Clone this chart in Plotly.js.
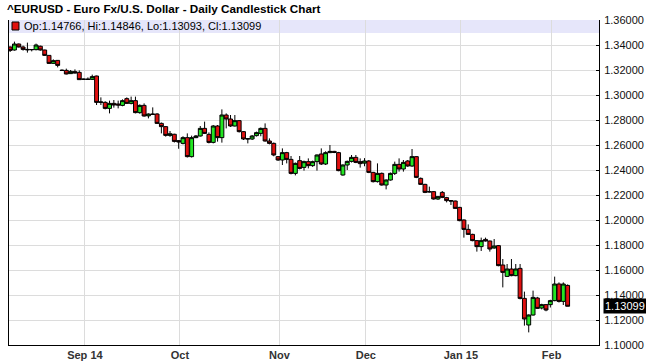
<!DOCTYPE html>
<html><head><meta charset="utf-8">
<script src="https://cdn.plot.ly/plotly-3.0.1.min.js"></script>
<style>html,body{margin:0;padding:0;background:#fff;}#chart{width:646px;height:363px;}</style>
</head><body><div id="chart"></div>
<script>
const dates = [
'2014-08-07','2014-08-08','2014-08-11','2014-08-12','2014-08-13','2014-08-14','2014-08-15','2014-08-18','2014-08-19','2014-08-20',
'2014-08-21','2014-08-22','2014-08-25','2014-08-26','2014-08-27','2014-08-28','2014-08-29','2014-09-01','2014-09-02','2014-09-03',
'2014-09-04','2014-09-05','2014-09-08','2014-09-09','2014-09-10','2014-09-11','2014-09-12','2014-09-15','2014-09-16','2014-09-17',
'2014-09-18','2014-09-19','2014-09-22','2014-09-23','2014-09-24','2014-09-25','2014-09-26','2014-09-29','2014-09-30','2014-10-01',
'2014-10-02','2014-10-03','2014-10-06','2014-10-07','2014-10-08','2014-10-09','2014-10-10','2014-10-13','2014-10-14','2014-10-15',
'2014-10-16','2014-10-17','2014-10-20','2014-10-21','2014-10-22','2014-10-23','2014-10-24','2014-10-27','2014-10-28','2014-10-29',
'2014-10-30','2014-10-31','2014-11-03','2014-11-04','2014-11-05','2014-11-06','2014-11-07','2014-11-10','2014-11-11','2014-11-12',
'2014-11-13','2014-11-14','2014-11-17','2014-11-18','2014-11-19','2014-11-20','2014-11-21','2014-11-24','2014-11-25','2014-11-26',
'2014-11-27','2014-11-28','2014-12-01','2014-12-02','2014-12-03','2014-12-04','2014-12-05','2014-12-08','2014-12-09','2014-12-10',
'2014-12-11','2014-12-12','2014-12-15','2014-12-16','2014-12-17','2014-12-18','2014-12-19','2014-12-22','2014-12-23','2014-12-24',
'2014-12-26','2014-12-29','2014-12-30','2014-12-31','2015-01-02','2015-01-05','2015-01-06','2015-01-07','2015-01-08','2015-01-09',
'2015-01-12','2015-01-13','2015-01-14','2015-01-15','2015-01-16','2015-01-19','2015-01-20','2015-01-21','2015-01-22','2015-01-23',
'2015-01-26','2015-01-27','2015-01-28','2015-01-29','2015-01-30','2015-02-02','2015-02-03','2015-02-04','2015-02-05','2015-02-06'
];
const openP = [
1.3384,1.3360,1.3408,1.3384,1.3365,1.3362,1.3363,1.3390,1.3360,1.3317,
1.3253,1.3277,1.3199,1.3197,1.3171,1.3187,1.3181,1.3125,1.3127,1.3125,
1.3152,1.2941,1.2941,1.2893,1.2933,1.2928,1.2917,1.2971,1.2933,1.2955,
1.2859,1.2917,1.2833,1.2848,1.2848,1.2773,1.2747,1.2677,1.2686,1.2635,
1.2613,1.2659,1.2507,1.2659,1.2672,1.2733,1.2685,1.2621,1.2752,1.2659,
1.2840,1.2808,1.2752,1.2795,1.2707,1.2648,1.2648,1.2675,1.2693,1.2733,
1.2632,1.2613,1.2507,1.2480,1.2539,1.2485,1.2373,1.2475,1.2421,1.2467,
1.2435,1.2467,1.2528,1.2448,1.2539,1.2549,1.2539,1.2360,1.2440,1.2469,
1.2501,1.2467,1.2455,1.2472,1.2381,1.2307,1.2373,1.2280,1.2320,1.2373,
1.2445,1.2408,1.2472,1.2432,1.2507,1.2333,1.2285,1.2227,1.2227,1.2168,
1.2221,1.2179,1.2155,1.2152,1.2101,1.2000,1.1925,1.1885,1.1835,1.1787,
1.1845,1.1832,1.1776,1.1795,1.1640,1.1549,1.1608,1.1555,1.1613,1.1373,
1.1160,1.1240,1.1376,1.1296,1.1323,1.1323,1.1355,1.1488,1.1349,1.14766
];
const highP = [
1.3389,1.3427,1.3412,1.3395,1.3419,1.3368,1.3411,1.3395,1.3362,1.3320,
1.3285,1.3280,1.3205,1.3211,1.3200,1.3205,1.3197,1.3130,1.3141,1.3163,
1.3155,1.2981,1.2950,1.2955,1.2960,1.2955,1.2965,1.2981,1.2987,1.2987,
1.2925,1.2933,1.2853,1.2901,1.2855,1.2780,1.2750,1.2712,1.2690,1.2640,
1.2670,1.2693,1.2675,1.2680,1.2752,1.2787,1.2701,1.2760,1.2760,1.2885,
1.2853,1.2840,1.2840,1.2800,1.2712,1.2655,1.2680,1.2707,1.2740,1.2773,
1.2653,1.2620,1.2510,1.2573,1.2545,1.2512,1.2460,1.2512,1.2475,1.2493,
1.2475,1.2525,1.2573,1.2550,1.2600,1.2553,1.2545,1.2445,1.2475,1.2520,
1.2520,1.2493,1.2495,1.2480,1.2385,1.2453,1.2380,1.2325,1.2380,1.2467,
1.2493,1.2480,1.2480,1.2568,1.2510,1.2340,1.2290,1.2267,1.2232,1.2192,
1.2232,1.2185,1.2160,1.2155,1.2105,1.2005,1.1965,1.1890,1.1840,1.1859,
1.1859,1.1835,1.1848,1.1800,1.1688,1.1648,1.1688,1.1648,1.1648,1.1427,
1.1245,1.1435,1.1385,1.1330,1.1328,1.1362,1.1547,1.1501,1.1501,1.14846
];
const lowP = [
1.3344,1.3355,1.3380,1.3355,1.3339,1.3349,1.3357,1.3355,1.3312,1.3248,
1.3250,1.3221,1.3192,1.3165,1.3168,1.3172,1.3120,1.3122,1.3120,1.3120,
1.2920,1.2920,1.2885,1.2853,1.2899,1.2893,1.2910,1.2928,1.2925,1.2853,
1.2850,1.2827,1.2813,1.2840,1.2768,1.2693,1.2667,1.2665,1.2620,1.2570,
1.2605,1.2500,1.2500,1.2655,1.2668,1.2688,1.2613,1.2613,1.2627,1.2619,
1.2733,1.2745,1.2748,1.2700,1.2640,1.2613,1.2640,1.2668,1.2670,1.2627,
1.2605,1.2510,1.2473,1.2440,1.2453,1.2365,1.2357,1.2405,1.2395,1.2413,
1.2425,1.2395,1.2440,1.2440,1.2535,1.2535,1.2390,1.2355,1.2400,1.2460,
1.2455,1.2419,1.2430,1.2375,1.2300,1.2300,1.2275,1.2245,1.2315,1.2360,
1.2387,1.2387,1.2425,1.2425,1.2335,1.2280,1.2215,1.2220,1.2163,1.2160,
1.2175,1.2141,1.2120,1.2090,1.1990,1.1859,1.1880,1.1830,1.1747,1.1752,
1.1828,1.1747,1.1770,1.1630,1.1461,1.1545,1.1550,1.1550,1.1365,1.1155,
1.1101,1.1235,1.1288,1.1285,1.1270,1.1300,1.1350,1.1340,1.1320,1.13093
];
const closeP = [
1.3357,1.3408,1.3384,1.3365,1.3362,1.3364,1.3400,1.3360,1.3317,1.3253,
1.3275,1.3237,1.3196,1.3168,1.3189,1.3176,1.3123,1.3127,1.3125,1.3147,
1.2941,1.2944,1.2893,1.2933,1.2920,1.2920,1.2955,1.2933,1.2955,1.2859,
1.2917,1.2832,1.2848,1.2845,1.2773,1.2747,1.2677,1.2690,1.2629,1.2624,
1.2659,1.2507,1.2659,1.2672,1.2733,1.2693,1.2621,1.2752,1.2659,1.2840,
1.2808,1.2752,1.2795,1.2707,1.2648,1.2650,1.2672,1.2699,1.2733,1.2632,
1.2613,1.2520,1.2480,1.2539,1.2485,1.2373,1.2453,1.2413,1.2467,1.2435,
1.2467,1.2520,1.2448,1.2539,1.2549,1.2541,1.2395,1.2440,1.2469,1.2501,
1.2461,1.2451,1.2472,1.2381,1.2307,1.2373,1.2280,1.2320,1.2373,1.2445,
1.2408,1.2461,1.2432,1.2507,1.2341,1.2285,1.2221,1.2225,1.2168,1.2187,
1.2181,1.2155,1.2152,1.2093,1.1995,1.1925,1.1885,1.1835,1.1787,1.1835,
1.1832,1.1768,1.1792,1.1635,1.1581,1.1608,1.1555,1.1608,1.1373,1.1208,
1.1240,1.1381,1.1293,1.1323,1.1280,1.1355,1.1488,1.1349,1.1488,1.13099
];
const tickLabels = ['Sep 14','Oct','Nov','Dec','Jan 15','Feb'];
const yTickVals = [1.10,1.12,1.14,1.16,1.18,1.20,1.22,1.24,1.26,1.28,1.30,1.32,1.34,1.36];
const titleText = '^EURUSD - Euro Fx/U.S. Dollar - Daily Candlestick Chart';

// trading-day index as x position
const xIdx = dates.map((d, i) => i);
// first trading day of each month (after the first month)
const monthStarts = [];
for (let i = 1; i < dates.length; i++) {
  if (dates[i].slice(0, 7) !== dates[i - 1].slice(0, 7)) monthStarts.push(i);
}
const n = dates.length;
const lastO = openP[n-1], lastH = highP[n-1], lastL = lowP[n-1], lastC = closeP[n-1];
const legendText = 'Op:' + lastO.toFixed(5) + ', Hi:' + lastH.toFixed(5) + ', Lo:' + lastL.toFixed(5) + ', Cl:' + lastC.toFixed(5);

const FONT = 'Liberation Sans, Arial, sans-serif';
const GREEN = '#22e622';
const RED = '#e01010';

const trace = {
  type: 'candlestick',
  x: xIdx, open: openP, high: highP, low: lowP, close: closeP,
  increasing: {line: {color: '#000', width: 1}, fillcolor: GREEN},
  decreasing: {line: {color: '#000', width: 1}, fillcolor: RED},
  whiskerwidth: 0,
  hoverinfo: 'none',
  showlegend: false
};

const layout = {
  width: 646, height: 363,
  margin: {l: 9, r: 47, t: 20, b: 18, pad: 0},
  paper_bgcolor: '#fff', plot_bgcolor: '#fff',
  showlegend: false,
  boxgap: 0.1, boxgroupgap: 0,
  xaxis: {
    range: [-0.26, 136.26],
    rangeslider: {visible: false},
    tickmode: 'array',
    tickvals: monthStarts.map(v => v + 0.3),
    ticktext: tickLabels,
    showgrid: true, gridcolor: '#dcdcdc', gridwidth: 1,
    showline: true, linecolor: '#000', linewidth: 1, mirror: false,
    ticks: '', zeroline: false,
    tickfont: {family: FONT, size: 11, color: '#333', weight: 'bold'}
  },
  yaxis: {
    side: 'right',
    range: [1.10, 1.36],
    tickmode: 'array', tickvals: yTickVals,
    tickformat: '.5f',
    showgrid: true, gridcolor: '#dcdcdc', gridwidth: 1,
    showline: true, linecolor: '#000', linewidth: 1, mirror: true,
    ticks: 'inside', ticklen: 3, tickcolor: '#000',
    ticklabelstandoff: 2,
    zeroline: false,
    tickfont: {family: FONT, size: 11, color: '#111'}
  },
  shapes: [
    {type: 'rect', xref: 'paper', yref: 'y', x0: 0, x1: 1, y0: 1.3496, y1: 1.36,
     fillcolor: '#e6e6fa', line: {width: 0}, layer: 'below'},
    {type: 'rect', xref: 'paper', yref: 'paper', x0: 0.0051, x1: 0.0169, y0: 0.9692, y1: 0.9938,
     fillcolor: RED, line: {color: '#000', width: 1}}
  ],
  annotations: [
    {text: titleText, xref: 'paper', yref: 'paper', x: -0.0068, y: 1.0369,
     xanchor: 'left', yanchor: 'middle', showarrow: false,
     font: {family: FONT, size: 11.7, color: '#000', weight: 'bold'}},
    {text: legendText, xref: 'paper', yref: 'paper', x: 0.022, y: 0.9815,
     xanchor: 'left', yanchor: 'middle', showarrow: false,
     font: {family: FONT, size: 11, color: '#000'}},
    {text: lastC.toFixed(5), xref: 'paper', yref: 'y', x: 1, y: lastC,
     xanchor: 'left', yanchor: 'middle', xshift: 4, showarrow: false,
     bgcolor: '#000', borderpad: 1,
     font: {family: FONT, size: 11, color: '#fff'}}
  ]
};

Plotly.newPlot('chart', [trace], layout, {staticPlot: true, displayModeBar: false});
</script>
</body></html>
